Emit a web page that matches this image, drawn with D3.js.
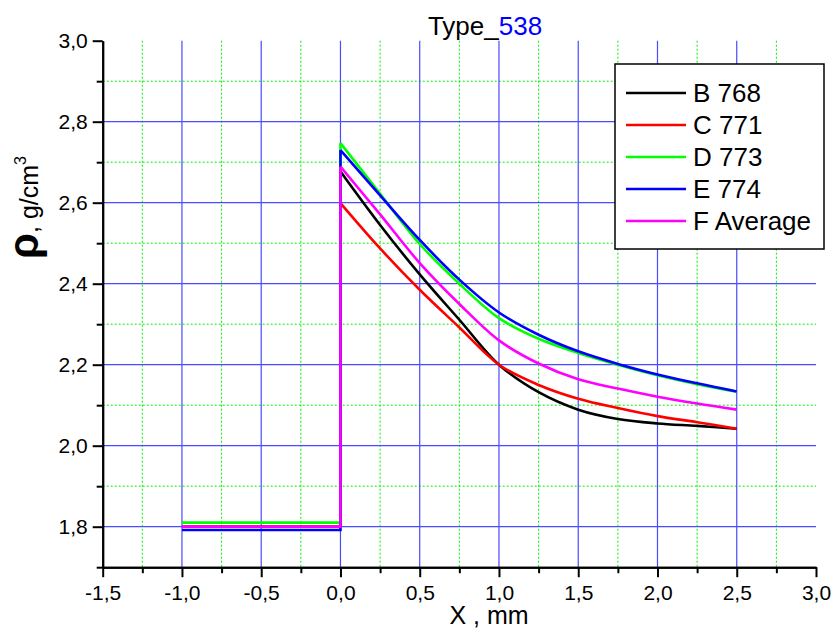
<!DOCTYPE html>
<html><head><meta charset="utf-8">
<script src="https://cdn.jsdelivr.net/npm/d3@7"></script>
<style>body{margin:0;background:#fff}svg{display:block;font-family:"Liberation Sans",Arial,sans-serif}</style>
</head><body><svg id="c" width="832" height="630"></svg>
<script>
const xs = [0, 0.25, 0.5, 0.75, 1.0, 1.25, 1.5, 1.75, 2.0, 2.25, 2.5];
const seriesNames = ["B 768", "C 771", "D 773", "E 774", "F Average"];
const seriesColors = ["#000000", "#ff0000", "#00ff00", "#0000ff", "#ff00ff"];
const baseValues = [1.80, 1.80, 1.81, 1.792, 1.80];
const B768 = [2.677, 2.545, 2.423, 2.311, 2.200, 2.132, 2.089, 2.066, 2.055, 2.049, 2.042];
const C771 = [2.599, 2.487, 2.385, 2.292, 2.200, 2.150, 2.116, 2.093, 2.073, 2.058, 2.042];
const D773 = [2.747, 2.622, 2.498, 2.400, 2.315, 2.264, 2.229, 2.200, 2.174, 2.152, 2.133];
const E774 = [2.730, 2.618, 2.508, 2.410, 2.329, 2.274, 2.233, 2.202, 2.176, 2.154, 2.134];
const FAvg = [2.689, 2.571, 2.451, 2.350, 2.260, 2.203, 2.164, 2.141, 2.121, 2.104, 2.089];
const seriesValues = [B768, C771, D773, E774, FAvg];
const baseStart = -1.0;
const xMajor = [-1.5, -1.0, -0.5, 0.0, 0.5, 1.0, 1.5, 2.0, 2.5, 3.0];
const xMinor = [-1.25, -0.75, -0.25, 0.25, 0.75, 1.25, 1.75, 2.25, 2.75];
const yMajor = [1.8, 2.0, 2.2, 2.4, 2.6, 2.8, 3.0];
const yMinor = [1.7, 1.9, 2.1, 2.3, 2.5, 2.7, 2.9];
const fmt = v => d3.format(".1f")(v).replace("−", "-").replace(".", ",");

const svg = d3.select("#c");
const x = d3.scaleLinear().domain([-1.5, 3.0]).range([102.7, 816]);
const y = d3.scaleLinear().domain([1.7, 3.0]).range([567.2, 40.7]);

// grid
const g = svg.append("g");
g.selectAll(".gxm").data(xMinor).join("line")
  .attr("x1", d => x(d)).attr("x2", d => x(d)).attr("y1", y(3.0)).attr("y2", y(1.7))
  .attr("stroke", "#00ee00").attr("stroke-width", 1).attr("stroke-dasharray", "2,2");
g.selectAll(".gym").data(yMinor.filter(d => d > 1.7)).join("line")
  .attr("x1", x(-1.5)).attr("x2", x(3.0)).attr("y1", d => y(d)).attr("y2", d => y(d))
  .attr("stroke", "#00ee00").attr("stroke-width", 1).attr("stroke-dasharray", "2,2");
g.selectAll(".gxM").data(xMajor.filter(d => d > -1.5 && d < 3.0)).join("line")
  .attr("x1", d => x(d)).attr("x2", d => x(d)).attr("y1", y(3.0)).attr("y2", y(1.7))
  .attr("stroke", "#4a4aff").attr("stroke-width", 1.2);
g.selectAll(".gyM").data(yMajor.filter(d => d < 3.0)).join("line")
  .attr("x1", x(-1.5)).attr("x2", x(3.0)).attr("y1", d => y(d)).attr("y2", d => y(d))
  .attr("stroke", "#4a4aff").attr("stroke-width", 1.2);

// axes
const xAxis = d3.axisBottom(x).tickValues(xMajor).tickFormat(fmt).tickSize(10).tickSizeOuter(0);
const xAxisMinor = d3.axisBottom(x).tickValues(xMinor).tickFormat("").tickSize(6).tickSizeOuter(0);
const yAxis = d3.axisLeft(y).tickValues(yMajor).tickFormat(fmt).tickSize(10).tickSizeOuter(0);
const yAxisMinor = d3.axisLeft(y).tickValues(yMinor).tickFormat("").tickSize(6).tickSizeOuter(0);
function styleAxis(sel) {
  sel.selectAll("path").attr("stroke", "#000").attr("stroke-width", 2);
  sel.selectAll("line").attr("stroke", "#000").attr("stroke-width", 2);
  sel.selectAll("text").attr("font-size", 21).attr("fill", "#000")
     .attr("font-family", "Liberation Sans, Arial, sans-serif");
}
const gx = svg.append("g").attr("transform", `translate(0,${y(1.7)})`).call(xAxis).call(styleAxis);
gx.selectAll("text").attr("y", 18).attr("dy", "0.71em");
svg.append("g").attr("transform", `translate(0,${y(1.7)})`).call(xAxisMinor).call(styleAxis);
const gy = svg.append("g").attr("transform", `translate(${x(-1.5)},0)`).call(yAxis).call(styleAxis);
gy.selectAll("text").attr("x", -15);
svg.append("g").attr("transform", `translate(${x(-1.5)},0)`).call(yAxisMinor).call(styleAxis);

// series
const lineLin = d3.line().x(d => x(d[0])).y(d => y(d[1]));
const lineCurve = d3.line().x(d => x(d[0])).y(d => y(d[1])).curve(d3.curveCatmullRom.alpha(0.5));
seriesValues.forEach((vals, i) => {
  const step = [[baseStart, baseValues[i]], [0, baseValues[i]], [0, vals[0]]];
  const curve = xs.map((xv, j) => [xv, vals[j]]);
  svg.append("path").attr("d", lineLin(step)).attr("fill", "none")
    .attr("stroke", seriesColors[i]).attr("stroke-width", 2.6).attr("stroke-linejoin", "miter");
  svg.append("path").attr("d", lineCurve(curve)).attr("fill", "none")
    .attr("stroke", seriesColors[i]).attr("stroke-width", 2.6);
});

// title
const title = svg.append("text").attr("x", 485).attr("y", 35).attr("text-anchor", "middle")
  .attr("font-size", 26);
title.append("tspan").attr("fill", "#000").text("Type_");
title.append("tspan").attr("fill", "#0000ff").text("538");

// x label
svg.append("text").attr("x", 489).attr("y", 624).attr("text-anchor", "middle")
  .attr("font-size", 25).attr("fill", "#000").text("X , mm");

// y label
const yl = svg.append("text").attr("transform", "translate(38,259) rotate(-90)")
  .attr("fill", "#000");
yl.append("tspan").attr("font-size", 42).attr("font-weight", "bold").text("ρ");
yl.append("tspan").attr("font-size", 25).text(", g/cm");
yl.append("tspan").attr("font-size", 16).attr("dy", -12).text("3");

// legend
const lg = svg.append("g");
lg.append("rect").attr("x", 615).attr("y", 64).attr("width", 209).attr("height", 185)
  .attr("fill", "#fff").attr("stroke", "#000").attr("stroke-width", 1.5);
seriesNames.forEach((n, i) => {
  const yy = 93 + i * 32;
  lg.append("line").attr("x1", 626).attr("x2", 686).attr("y1", yy).attr("y2", yy)
    .attr("stroke", seriesColors[i]).attr("stroke-width", 2.6);
  lg.append("text").attr("x", 693).attr("y", yy + 9).attr("font-size", 26)
    .attr("fill", "#000").text(n);
});
</script></body></html>
